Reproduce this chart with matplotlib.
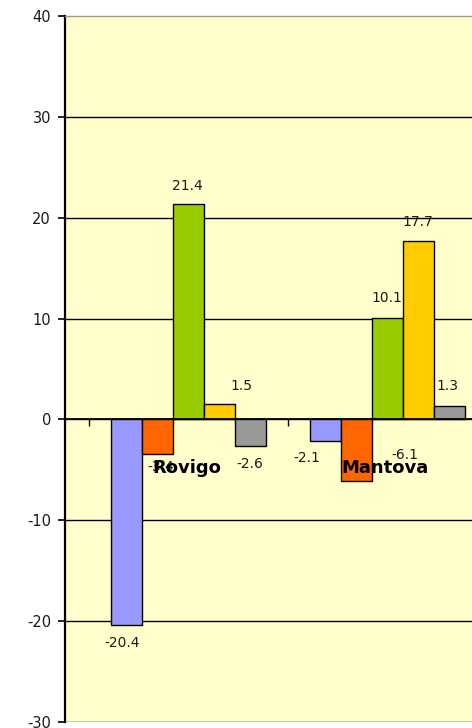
import matplotlib
matplotlib.use('Agg')
from matplotlib import pyplot as plt
import numpy as np

# data
categories = ['Rovigo', 'Mantova']
series_colors = ['#9999FF', '#FF6600', '#99CC00', '#FFCC00', '#999999']
blue_vals = [-20.4, -2.1]
orange_vals = [-3.4, -6.1]
green_vals = [21.4, 10.1]
yellow_vals = [1.5, 17.7]
gray_vals = [-2.6, 1.3]
y_ticks = [-30, -20, -10, 0, 10, 20, 30, 40]

# label offsets in pixels (dx, dy) from each bar end, per series and category
label_offsets = [
    [(-4, -18), (-19, -17)],
    [(3, -13), (49, 26)],
    [(-1, 18), (-1, 20)],
    [(22, 18), (-1, 19)],
    [(-1, -18), (-2, 20)],
]

plt.rcParams['font.family'] = ['DejaVu Sans']
plt.rcParams['axes.unicode_minus'] = False


def main():
    fig = plt.figure(figsize=(4.72, 7.28), dpi=100)
    fig.patch.set_facecolor('white')
    ax = fig.add_axes([65 / 472, 6 / 728, 407 / 472, 706 / 728])
    ax.set_facecolor('#FFFFCC')

    series = [blue_vals, orange_vals, green_vals, yellow_vals, gray_vals]
    x = np.arange(len(categories))
    width = 0.156

    for t in y_ticks[:-1]:
        ax.axhline(t, color='black', lw=1.0, zorder=0.9)

    for k, (vals, col) in enumerate(zip(series, series_colors)):
        pos = x + (k - 2) * width
        ax.bar(pos, vals, width, color=col, edgecolor='black', lw=1.0, zorder=2)
        for i, v in enumerate(vals):
            dx, dy = label_offsets[k][i]
            ax.annotate(f'{v:.1f}', (pos[i], v), xytext=(dx, dy),
                        textcoords='offset pixels', ha='center', va='center',
                        fontsize=10, color='#1a1a1a', zorder=0.8)

    for i, name in enumerate(categories):
        ax.annotate(name, (x[i], 0), xytext=(-2, -49), textcoords='offset pixels',
                    ha='center', va='center', fontsize=13, fontweight='bold',
                    color='black', zorder=3)

    ax.set_yticks(y_ticks)
    ax.set_yticklabels([str(t) for t in y_ticks], fontsize=10.5, color='#1a1a1a')
    ax.tick_params(axis='y', direction='out', length=5, width=1.2, pad=5)

    ax.spines['bottom'].set_position(('data', 0))
    ax.spines['bottom'].set_linewidth(1.3)
    ax.spines['bottom'].set_zorder(2.5)
    ax.set_xticks([-0.5, 0.5, 1.5])
    ax.set_xticklabels([])
    ax.tick_params(axis='x', direction='out', length=5, width=1.0)
    ax.spines['left'].set_linewidth(1.6)
    ax.spines['right'].set_visible(False)
    ax.spines['top'].set_color('#999999')
    ax.spines['top'].set_linewidth(1.0)

    # limits after the ticks, so the tick at 1.5 does not widen the view
    ax.set_ylim(-30, 40)
    ax.set_xlim(-0.62, 1.425)

    fig.savefig('out.png', dpi=100, facecolor='white')


if __name__ == '__main__':
    main()
